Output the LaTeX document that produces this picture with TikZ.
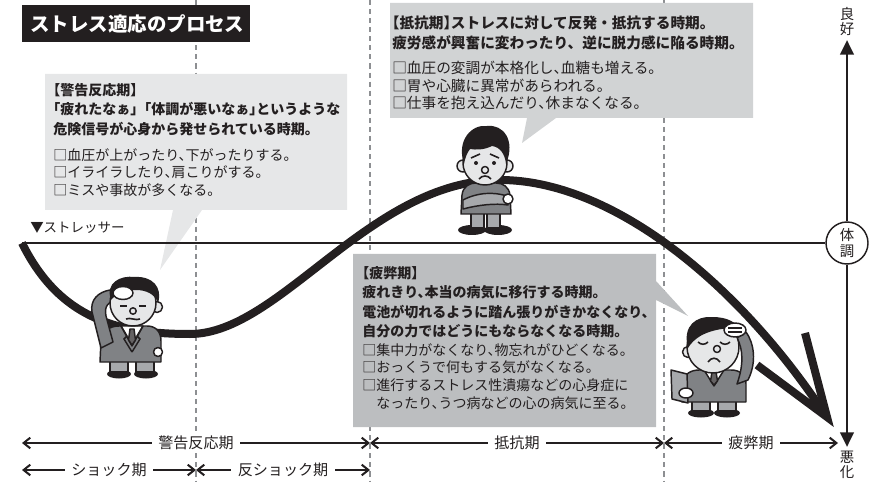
\documentclass[tikz,border=0pt]{standalone}
\usepackage{fontspec}
\setmainfont{Noto Sans CJK JP}
\usetikzlibrary{arrows.meta}

\definecolor{ink}{HTML}{231F20}
\definecolor{paleA}{HTML}{E6E7E8}
\definecolor{paleB}{HTML}{D1D3D4}
\definecolor{paleC}{HTML}{BCBEC0}
\definecolor{guidegray}{HTML}{8D8F92}
\definecolor{suit}{HTML}{808285}
\definecolor{slacks}{HTML}{A7A9AC}
\definecolor{skin}{HTML}{E6E7E8}

% half-width punctuation
\newcommand\ku{\kern-.5em}

\tikzset{
  guide/.style={guidegray, line width=1.8pt, dash pattern=on 3.8pt off 3pt},
  headtext/.style={anchor=north west, inner sep=0pt, align=left, text=ink,
    font=\bfseries\fontsize{10.5}{14.6}\selectfont},
  listtext/.style={anchor=north west, inner sep=0pt, align=left, text=ink,
    font=\fontsize{10.5}{13.35}\selectfont},
  phase/.style={ink, line width=1.5pt, <->, >={Straight Barb[length=5pt,width=8pt]}},
  phaselabel/.style={fill=white, text=ink, inner xsep=5pt, inner ysep=1pt,
    font=\fontsize{11.3}{12}\selectfont},
  axislabel/.style={inner sep=0pt, align=center, text=ink, font=\fontsize{10.8}{11.4}\selectfont},
  outline/.style={draw=ink, line width=1.1pt, line join=round},
  trend/.style={ink, line width=6pt},
}

\begin{document}
\begin{tikzpicture}[x=0.75pt, y=-0.75pt]
  \useasboundingbox (0,0) rectangle (874,495);

  % phase borders
  \foreach \gx in {196,370,664}
    \draw[guide] (\gx,0) -- (\gx,482);

  % speech boxes
  \fill[paleA] (45,74) -- (347,74) -- (347,210) -- (202,210) -- (160,270) -- (173,210) -- (45,210) -- cycle;
  \fill[paleB] (390,3) -- (753,3) -- (753,118) -- (556,118) -- (522,143) -- (527,118) -- (390,118) -- cycle;
  \fill[paleC] (353,254) -- (656,254) -- (656,281) -- (688,316) -- (656,300) -- (656,427) -- (353,427) -- cycle;

  % title
  \fill[ink] (22,5) rectangle (250,42);
  \node[anchor=west, inner sep=0pt, text=white, font=\bfseries\fontsize{14.6}{16}\selectfont]
    (title) at (30,24) {ストレス適応のプロセス};

  % health axis
  \node[circle, draw=ink, line width=1.1pt, fill=white, minimum size=31.5pt, axislabel]
    (health) at (847,243) {体\\調};
  \coordinate (good) at (847,40);
  \coordinate (bad) at (847,447);
  \coordinate (onset) at (22,243);
  \draw[ink, line width=2.2pt] (onset) -- (health);
  \draw[ink, line width=2.2pt, -{Triangle[length=11pt,width=10pt]}] (health) -- (good);
  \draw[ink, line width=2.2pt, -{Triangle[length=11pt,width=10pt]}] (health) -- (bad);
  \node[axislabel, anchor=south] (goodlab) at (847,36) {良\\好};
  \node[axislabel, anchor=north] (badlab) at (847,451) {悪\\化};

  \node[anchor=west, inner sep=0pt, text=ink, font=\fontsize{10.1}{12}\selectfont]
    (stressor) at (30,228) {▼ストレッサー};

  % body condition over time, open head at the end
  \coordinate (tip) at (827,417);
  \draw[trend]
    (onset) .. controls (60,320) and (120,334) .. (190,334)
    .. controls (280,334) and (370,180) .. (500,180)
    .. controls (610,180) and (735,280) .. (822,410);
  \draw[trend, line join=miter, miter limit=20] (757,365) -- (tip) -- (805,333);

  % man 1: hand on forehead
  \fill[ink] (119,374) ellipse (12 and 4.5);
  \fill[ink] (146,374) ellipse (12 and 4.5);
  \filldraw[outline, fill=slacks] (110,356) rectangle (128,372);
  \filldraw[outline, fill=slacks] (136,356) rectangle (154,372);
  \filldraw[outline, fill=suit] (100,362) -- (101,340) .. controls (102,331) and (110,326) .. (119,326)
    -- (147,326) .. controls (156,326) and (161,332) .. (161,341) -- (161,362) -- cycle;
  \filldraw[outline, fill=white] (121,326) -- (132,346) -- (143,326) -- cycle;
  \filldraw[outline, fill=ink!70] (130,329) -- (134,329) -- (135.5,340) -- (132,345) -- (128.5,340) -- cycle;
  \draw[ink, line width=1.1pt] (121,326) -- (127,336) -- (124,339) -- (132,352);
  \draw[ink, line width=1.1pt] (143,326) -- (137,336) -- (140,339) -- (132,352);
  \filldraw[outline, fill=white] (158,352) circle (4.5);
  \filldraw[outline, fill=suit] (101,348) -- (92,312) .. controls (90,300) and (98,292) .. (110,290)
    -- (118,299) .. controls (108,302) and (104,306) .. (106,316) -- (113,342) -- cycle;
  \filldraw[outline, fill=skin] (157,307) circle (5.5);
  \filldraw[outline, fill=skin] (133,303) circle (23);
  \fill[ink] (111,300) .. controls (105,283) and (120,275) .. (135,277) .. controls (152,276) and (163,287) .. (158,303)
    .. controls (155,294) and (146,290) .. (136,290) .. controls (126,290) and (117,293) .. (111,300) -- cycle;
  \filldraw[outline, fill=white] (123,293) ellipse (10 and 6.5);
  \draw[ink, line width=1.2pt] (120,306) -- (127,306) (139,306) -- (146,306);
  \filldraw[outline, fill=skin] (133,311) circle (3.2);
  \draw[ink, line width=1.2pt] (126,319) .. controls (130,317) and (136,321) .. (140,319);

  % man 2: arms crossed
  \fill[ink] (472,230) ellipse (14 and 5);
  \fill[ink] (498,230) ellipse (14 and 5);
  \filldraw[outline, fill=slacks] (471,211) rectangle (484,228);
  \filldraw[outline, fill=slacks] (487,211) rectangle (500,228);
  \filldraw[outline, fill=suit] (461,214) -- (462,195) .. controls (463,186) and (470,183) .. (476,183)
    -- (496,183) .. controls (503,183) and (509,187) .. (510,195) -- (511,214) -- cycle;
  \filldraw[outline, fill=slacks] (463,200) .. controls (478,192) and (495,192) .. (507,196)
    -- (508,205) .. controls (495,203) and (478,205) .. (463,209) -- cycle;
  \filldraw[outline, fill=white] (508,199) circle (5);
  \filldraw[outline, fill=skin] (463,166) circle (6);
  \filldraw[outline, fill=skin] (507,166) circle (6);
  \filldraw[outline, fill=skin] (485,163) circle (22);
  \fill[ink] (464,164) .. controls (456,140) and (472,124) .. (487,126) .. controls (503,124) and (516,140) .. (506,164)
    .. controls (505,154) and (500,147) .. (492,146) .. controls (484,150) and (476,150) .. (470,149)
    .. controls (467,153) and (465,158) .. (464,164) -- cycle;
  \draw[ink, line width=1.2pt] (471,158) -- (480,154) (490,154) -- (499,158);
  \fill[ink] (476,163) circle (2) (494,163) circle (2);
  \filldraw[outline, fill=skin] (485,170) circle (3.5);
  \draw[ink, line width=1.2pt] (479,179) .. controls (482,175) and (488,175) .. (491,179);

  % man 3: worn out
  \fill[ink] (701,413) ellipse (13 and 4.5);
  \fill[ink] (727,413) ellipse (13 and 4.5);
  \filldraw[outline, fill=slacks] (692,396) rectangle (710,411);
  \filldraw[outline, fill=slacks] (718,396) rectangle (736,411);
  \filldraw[outline, fill=suit] (682,402) -- (683,382) .. controls (684,374) and (691,370) .. (699,370)
    -- (731,370) .. controls (740,370) and (746,375) .. (746,384) -- (746,402) -- cycle;
  \filldraw[outline, fill=white] (704,370) -- (714,386) -- (724,370) -- cycle;
  \filldraw[outline, fill=ink!70] (712,372) -- (716,372) -- (717.5,381) -- (714,385) -- (710.5,381) -- cycle;
  \filldraw[outline, fill=slacks] (671,370) -- (687,374) -- (688,403) -- (672,399) -- cycle;
  \filldraw[outline, fill=white] (686,393) ellipse (7 and 5);
  \filldraw[outline, fill=suit] (737,384) -- (748,380) .. controls (757,362) and (754,343) .. (746,332)
    -- (737,338) .. controls (743,349) and (744,364) .. (737,384) -- cycle;
  \filldraw[outline, fill=skin] (688,352) circle (5.5);
  \filldraw[outline, fill=skin] (713,347) circle (26);
  \fill[ink] (688,348) .. controls (682,325) and (697,316) .. (712,317) .. controls (727,317) and (736,322) .. (739,329)
    .. controls (726,327) and (712,330) .. (702,335) .. controls (695,339) and (691,343) .. (688,348) -- cycle;
  \filldraw[outline, fill=white] (735,330) ellipse (11 and 7);
  \draw[ink, line width=0.8pt] (728,328) -- (742,328) (728,332) -- (742,332);
  \draw[ink, line width=1.2pt] (698,342) .. controls (701,345) and (705,345) .. (708,342)
    (720,342) .. controls (723,345) and (727,345) .. (730,342);
  \filldraw[outline, fill=skin] (717,349) circle (3.5);
  \draw[ink, line width=1.2pt] (708,362) .. controls (711,357) and (717,357) .. (720,362);

  % box texts
  \node[headtext] (alarmhead) at (53,83)
    {\ku【警告反応期】\\\ku「疲れたなぁ」\ku「体調が悪いなぁ」\ku というような\\危険信号が心身から発せられている時期。};
  \node[listtext] (alarmlist) at (53,148)
    {□血圧が上がったり、\ku 下がったりする。\\□イライラしたり、\ku 肩こりがする。\\□ミスや事故が多くなる。};
  \node[headtext, font=\bfseries\fontsize{11}{15}\selectfont] (resisthead) at (392,16)
    {\ku【抵抗期】\ku ストレスに対して反発・抵抗する時期。\\疲労感が興奮に変わったり、逆に脱力感に陥る時期。};
  \node[listtext, font=\fontsize{11}{13.2}\selectfont] (resistlist) at (392,61)
    {□血圧の変調が本格化し、\ku 血糖も増える。\\□胃や心臓に異常があらわれる。\\□仕事を抱え込んだり、\ku 休まなくなる。};
  \node[headtext] (exhausthead) at (362,266)
    {\ku【疲弊期】\\疲れきり、\ku 本当の病気に移行する時期。\\電池が切れるように踏ん張りがきかなくなり、\\自分の力ではどうにもならなくなる時期。};
  \node[listtext] (exhaustlist) at (362,343)
    {□集中力がなくなり、\ku 物忘れがひどくなる。\\□おっくうで何もする気がなくなる。\\□進行するストレス性潰瘍などの心身症に\\\hspace{1em}なったり、\ku うつ病などの心の病気に至る。};

  % time spans
  \coordinate (p0) at (22,443);
  \coordinate (p1) at (370,443);
  \coordinate (p2) at (664,443);
  \coordinate (p3) at (838,443);
  \coordinate (q0) at (22,470);
  \coordinate (q1) at (196,470);
  \coordinate (q2) at (370,470);
  \draw[phase] (p0) -- (p1) node[midway, phaselabel] (alarmspan) {警告反応期};
  \draw[phase] (p1) -- (p2) node[midway, phaselabel] (resistspan) {抵抗期};
  \draw[phase] (p2) -- (p3) node[midway, phaselabel] (exhaustspan) {疲弊期};
  \draw[phase] (q0) -- (q1) node[midway, phaselabel] (shockspan) {ショック期};
  \draw[phase] (q1) -- (q2) node[midway, phaselabel] (countershockspan) {反ショック期};
\end{tikzpicture}
\end{document}
